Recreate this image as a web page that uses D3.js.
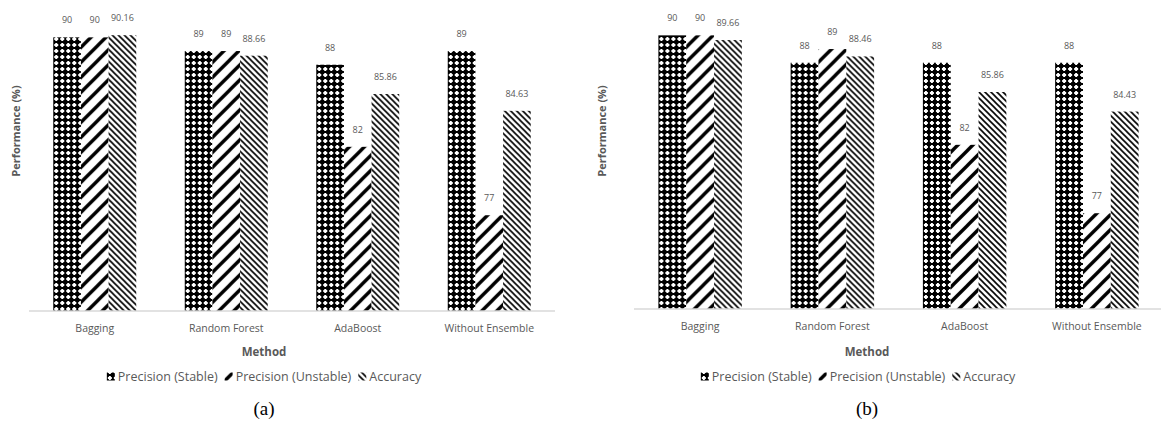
<!DOCTYPE html>
<html>
<head>
<meta charset="utf-8">
<script src="https://cdn.jsdelivr.net/npm/d3@7"></script>
<style>
  body { margin: 0; background: #fff; }
  text { font-family: "Open Sans", "Noto Sans", sans-serif; fill: #595959; }
</style>
</head>
<body>
<svg id="fig" width="1161" height="425"></svg>
<script>
// data
var categories = ["Bagging", "Random Forest", "AdaBoost", "Without Ensemble"];
var seriesNames = ["Precision (Stable)", "Precision (Unstable)", "Accuracy"];

var stableA = [90, 89, 88, 89];
var unstableA = [90, 89, 82, 77];
var accuracyA = [90.16, 88.66, 85.86, 84.63];

var stableB = [90, 88, 88, 88];
var unstableB = [90, 89, 82, 77];
var accuracyB = [89.66, 88.46, 85.86, 84.43];

var svg = d3.select("#fig");
var defs = svg.append("defs");

// pattern fills (black & white hatches like the office chart)
var p1 = defs.append("pattern").attr("id", "patStable")
  .attr("patternUnits", "userSpaceOnUse").attr("width", 6).attr("height", 6);
p1.append("rect").attr("width", 6).attr("height", 6).attr("fill", "#000");
p1.append("rect").attr("x", 2).attr("y", 1).attr("width", 2).attr("height", 4).attr("fill", "#fff");
p1.append("rect").attr("x", 1).attr("y", 2).attr("width", 4).attr("height", 2).attr("fill", "#fff");

var p2 = defs.append("pattern").attr("id", "patUnstable")
  .attr("patternUnits", "userSpaceOnUse").attr("width", 15).attr("height", 15);
p2.append("rect").attr("width", 15).attr("height", 15).attr("fill", "#fff");
p2.append("path").attr("d", "M-2,17 L17,-2 M-9,9 L9,-9 M6,24 L24,6")
  .attr("stroke", "#000").attr("stroke-width", 3.4);

var p3 = defs.append("pattern").attr("id", "patAccuracy")
  .attr("patternUnits", "userSpaceOnUse").attr("width", 6).attr("height", 6);
p3.append("rect").attr("width", 6).attr("height", 6).attr("fill", "#fff");
p3.append("path").attr("d", "M-1,-1 L7,7 M-4,2 L2,8 M4,-2 L8,2")
  .attr("stroke", "#000").attr("stroke-width", 1.6);

var fills = ["url(#patStable)", "url(#patUnstable)", "url(#patAccuracy)"];

function drawChart(opt) {
  var g = svg.append("g");
  var data = categories.map(function(c, i) {
    return { cat: c, vals: [opt.stable[i], opt.unstable[i], opt.accuracy[i]] };
  });

  var x0 = d3.scaleBand().domain(categories)
    .range([opt.left, opt.right]).paddingInner(0.369).paddingOuter(0.1845);
  var x1 = d3.scaleBand().domain(seriesNames).range([0, x0.bandwidth()]);
  var y = d3.scaleLinear().domain([70, 92]).range([opt.base, opt.base - 301]);

  var groups = g.selectAll(".grp").data(data).enter().append("g")
    .attr("transform", function(d) { return "translate(" + x0(d.cat) + ",0)"; });

  groups.selectAll("rect").data(function(d) { return d.vals; }).enter().append("rect")
    .attr("x", function(d, i) { return x1(seriesNames[i]); })
    .attr("width", x1.bandwidth())
    .attr("y", function(d) { return y(d); })
    .attr("height", function(d) { return opt.base - y(d); })
    .attr("fill", function(d, i) { return fills[i]; });

  groups.selectAll(".lbl").data(function(d) { return d.vals; }).enter().append("text")
    .attr("class", "lbl")
    .attr("x", function(d, i) { return x1(seriesNames[i]) + x1.bandwidth() / 2; })
    .attr("y", function(d) { return y(d) - 14; })
    .attr("text-anchor", "middle")
    .style("font-size", "9px")
    .text(function(d) { return d; });

  // category axis
  var axis = g.append("g").attr("transform", "translate(0," + opt.base + ")")
    .call(d3.axisBottom(x0).tickSize(0).tickPadding(14));
  axis.select(".domain").attr("stroke", "#d9d9d9").attr("stroke-width", 1.3)
    .attr("d", "M" + opt.left + ",0H" + opt.right);
  axis.selectAll("text").style("font-size", "10.5px").attr("fill", "#595959")
    .style("font-family", "\"Open Sans\", sans-serif");

  g.append("text")
    .attr("transform", "translate(" + opt.ytx + ",131) rotate(-90)")
    .attr("text-anchor", "middle")
    .style("font-size", "11px").style("font-weight", "bold")
    .text("Performance (%)");

  g.append("text").attr("x", opt.mid).attr("y", 356)
    .attr("text-anchor", "middle")
    .style("font-size", "11.5px").style("font-weight", "bold")
    .text("Method");

  // legend
  var leg = g.append("g").attr("transform", "translate(0,381)");
  var xpos = 0;
  seriesNames.forEach(function(s, i) {
    var it = leg.append("g").attr("transform", "translate(" + xpos + ",0)");
    it.append("rect").attr("x", 0).attr("y", -8.5).attr("width", 8).attr("height", 8)
      .attr("fill", fills[i]);
    var t = it.append("text").attr("x", 11).attr("y", 0)
      .style("font-size", "12.5px").text(s);
    xpos += 11 + t.node().getComputedTextLength() + 7;
  });
  xpos -= 7;
  leg.attr("transform", "translate(" + (opt.legMid - xpos / 2) + ",381)");

  g.append("text").attr("x", opt.mid).attr("y", 415)
    .attr("text-anchor", "middle")
    .style("font-family", "\"Liberation Serif\", \"Times New Roman\", serif")
    .style("font-size", "19px").style("fill", "#000")
    .text(opt.tag);
}

drawChart({ stable: stableA, unstable: unstableA, accuracy: accuracyA,
  left: 29, right: 555, base: 311, ytx: 20, mid: 264, legMid: 264, tag: "(a)" });
drawChart({ stable: stableB, unstable: unstableB, accuracy: accuracyB,
  left: 634, right: 1163, base: 309, ytx: 606, mid: 867, legMid: 858, tag: "(b)" });
</script>
</body>
</html>
